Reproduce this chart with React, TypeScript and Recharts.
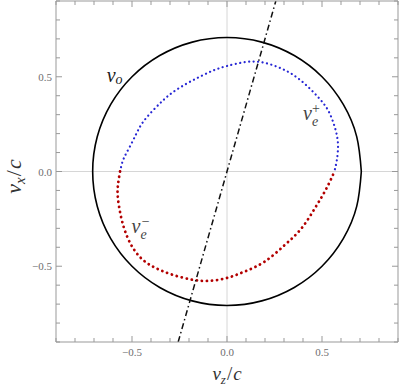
import React from "react";
import { ComposedChart, XAxis, YAxis, Line, ReferenceLine, ReferenceDot } from "recharts";

// v_o : circle of constant speed
const CIRCLE_Z = [0.707, 0.683, 0.612, 0.5, 0.354, 0.183, 0, -0.183, -0.354, -0.5, -0.612, -0.683, -0.707, -0.683, -0.612, -0.5, -0.354, -0.183, 0, 0.183, 0.354, 0.5, 0.612, 0.683, 0.707];
const CIRCLE_X = [0, 0.183, 0.354, 0.5, 0.612, 0.683, 0.707, 0.683, 0.612, 0.5, 0.354, 0.183, 0, -0.183, -0.354, -0.5, -0.612, -0.683, -0.707, -0.683, -0.612, -0.5, -0.354, -0.183, 0];

// v_e^+ (blue, upper branch)
const PLUS_Z = [-0.563, -0.545, -0.512, -0.477, -0.442, -0.389, -0.337, -0.284, -0.214, -0.144, -0.073, 0.0, 0.093, 0.181, 0.268, 0.339, 0.409, 0.479, 0.532, 0.567, 0.584, 0.578, 0.565];
const PLUS_X = [0.0, 0.065, 0.13, 0.2, 0.261, 0.323, 0.375, 0.419, 0.463, 0.5, 0.533, 0.557, 0.577, 0.577, 0.551, 0.516, 0.463, 0.393, 0.323, 0.235, 0.147, 0.06, 0.0];

// v_e^- (red, lower branch)
const MINUS_Z = [-0.563, -0.574, -0.574, -0.556, -0.529, -0.494, -0.442, -0.372, -0.284, -0.179, -0.091, 0.0, 0.093, 0.198, 0.304, 0.392, 0.462, 0.514, 0.549, 0.565];
const MINUS_X = [0.0, -0.072, -0.142, -0.247, -0.335, -0.405, -0.467, -0.511, -0.546, -0.572, -0.577, -0.562, -0.528, -0.476, -0.388, -0.3, -0.195, -0.107, -0.037, 0.0];

// dash-dot direction line
const AXIS_Z = [-0.257, 0.257];
const AXIS_X = [-0.9, 0.9];

const TICKS = [-0.9, -0.8, -0.7, -0.6, -0.5, -0.4, -0.3, -0.2, -0.1, 0, 0.1, 0.2, 0.3, 0.4, 0.5, 0.6, 0.7, 0.8, 0.9];
const MAJOR_TICKS = [-0.5, 0, 0.5];
const MAJOR_LABELS = ["\u22120.5", "0.0", "0.5"];

const LABEL_VO = { z: -0.633, x: 0.471 };
const LABEL_PLUS = { z: 0.4, x: 0.271 };
const LABEL_MINUS = { z: -0.502, x: -0.324 };

const toRows = (zs: number[], xs: number[]) => zs.map((z, i) => ({ z, x: xs[i] }));

const circle = toRows(CIRCLE_Z, CIRCLE_X);
const plus = toRows(PLUS_Z, PLUS_X);
const minus = toRows(MINUS_Z, MINUS_X);
const dirLine = toRows(AXIS_Z, AXIS_X);

const FRAME = "#999";
const TICK_TEXT = "#6e6e6e";
const SERIF = "'Liberation Serif', 'Times New Roman', serif";

const majorIndex = (v: number) => MAJOR_TICKS.findIndex((t) => Math.abs(t - v) < 1e-6);

function makeTick(side: "bottom" | "top" | "left" | "right") {
  return (p: any) => {
    const v = p.payload.value;
    const mi = majorIndex(v);
    const len = mi >= 0 ? 6 : 4;
    const { x, y } = p;
    if (side === "bottom") {
      return (
        <g>
          <line x1={x} y1={y} x2={x} y2={y - len} stroke={FRAME} />
          {mi >= 0 && (
            <text x={x} y={y + 14} textAnchor="middle" fontFamily={SERIF} fontSize={11} fill={TICK_TEXT}>
              {MAJOR_LABELS[mi]}
            </text>
          )}
        </g>
      );
    }
    if (side === "top") return <line x1={x} y1={y} x2={x} y2={y + len} stroke={FRAME} />;
    if (side === "left") {
      return (
        <g>
          <line x1={x} y1={y} x2={x + len} y2={y} stroke={FRAME} />
          {mi >= 0 && (
            <text x={x - 4} y={y + 4} textAnchor="end" fontFamily={SERIF} fontSize={11} fill={TICK_TEXT}>
              {MAJOR_LABELS[mi]}
            </text>
          )}
        </g>
      );
    }
    return <line x1={x} y1={y} x2={x - len} y2={y} stroke={FRAME} />;
  };
}

const renderZLabel = (props: any) => {
  const vb = props.viewBox;
  return (
    <text x={vb.x + vb.width / 2} y={vb.y + 38} textAnchor="middle" fontFamily={SERIF} fontSize={19} fill="#333">
      <tspan fontStyle="italic">v</tspan>
      <tspan fontStyle="italic" fontSize={13} dy={4}>z</tspan>
      <tspan dy={-4} dx={1}>/</tspan>
      <tspan fontStyle="italic" dx={1}>c</tspan>
    </text>
  );
};

const renderXLabel = (props: any) => {
  const vb = props.viewBox;
  const cx = vb.x + 21;
  const cy = vb.y + vb.height / 2 + 5;
  return (
    <text transform={`translate(${cx},${cy}) rotate(-90)`} x={0} y={0} textAnchor="middle" fontFamily={SERIF} fontSize={22} fill="#333">
      <tspan fontStyle="italic">v</tspan>
      <tspan fontStyle="italic" fontSize={15} dy={4}>x</tspan>
      <tspan dy={-4} dx={1}>/</tspan>
      <tspan fontStyle="italic" dx={1}>c</tspan>
    </text>
  );
};

const voShape = (p: any) => (
  <text x={p.cx} y={p.cy} fontFamily={SERIF} fontSize={20} fill="#1a1a1a">
    <tspan fontStyle="italic">v</tspan>
    <tspan fontStyle="italic" fontSize={14} dy={2}>o</tspan>
  </text>
);

const plusShape = (p: any) => (
  <text x={p.cx} y={p.cy} fontFamily={SERIF} fontSize={20} fill="#444">
    <tspan fontStyle="italic">v</tspan>
    <tspan fontStyle="italic" fontSize={14} dy={6}>e</tspan>
    <tspan fontSize={14} dx={-6} dy={-13}>+</tspan>
  </text>
);

const minusShape = (p: any) => (
  <text x={p.cx} y={p.cy} fontFamily={SERIF} fontSize={20} fill="#444">
    <tspan fontStyle="italic">v</tspan>
    <tspan fontStyle="italic" fontSize={14} dy={6}>e</tspan>
    <tspan fontSize={14} dx={-5} dy={-13}>{"\u2212"}</tspan>
  </text>
);

export default function App() {
  return (
    <div style={{ position: "absolute", left: 0, top: 0, background: "#fff" }}>
      <ComposedChart width={399} height={389} margin={{ top: 0, right: 0, bottom: 0, left: 0 }}>
        <XAxis
          xAxisId="b"
          orientation="bottom"
          type="number"
          dataKey="z"
          domain={[-0.9, 0.9]}
          allowDataOverflow
          ticks={TICKS}
          interval={0}
          tickSize={0}
          tickMargin={0}
          tickLine={false}
          tick={makeTick("bottom")}
          axisLine={{ stroke: FRAME }}
          height={47}
          label={renderZLabel}
        />
        <XAxis
          xAxisId="t"
          orientation="top"
          type="number"
          dataKey="z"
          domain={[-0.9, 0.9]}
          allowDataOverflow
          ticks={TICKS}
          interval={0}
          tickSize={0}
          tickMargin={0}
          tickLine={false}
          tick={makeTick("top")}
          axisLine={{ stroke: FRAME }}
          height={1}
        />
        <YAxis
          yAxisId="l"
          orientation="left"
          type="number"
          dataKey="x"
          domain={[-0.9, 0.9]}
          allowDataOverflow
          ticks={TICKS}
          interval={0}
          tickSize={0}
          tickMargin={0}
          tickLine={false}
          tick={makeTick("left")}
          axisLine={{ stroke: FRAME }}
          width={56}
          label={renderXLabel}
        />
        <YAxis
          yAxisId="r"
          orientation="right"
          type="number"
          dataKey="x"
          domain={[-0.9, 0.9]}
          allowDataOverflow
          ticks={TICKS}
          interval={0}
          tickSize={0}
          tickMargin={0}
          tickLine={false}
          tick={makeTick("right")}
          axisLine={{ stroke: FRAME }}
          width={1}
        />
        <ReferenceLine xAxisId="b" yAxisId="l" x={0} stroke="#d6d6d6" strokeWidth={1} />
        <ReferenceLine xAxisId="b" yAxisId="l" y={0} stroke="#d6d6d6" strokeWidth={1} />
        <Line
          xAxisId="b"
          yAxisId="l"
          data={circle}
          dataKey="x"
          type="natural"
          stroke="#000"
          strokeWidth={1.6}
          dot={false}
          activeDot={false}
          isAnimationActive={false}
        />
        <Line
          xAxisId="b"
          yAxisId="l"
          data={plus}
          dataKey="x"
          type="natural"
          stroke="#2626d4"
          strokeWidth={2.2}
          strokeDasharray="0.1 4.4"
          strokeLinecap="round"
          dot={false}
          activeDot={false}
          isAnimationActive={false}
        />
        <Line
          xAxisId="b"
          yAxisId="l"
          data={minus}
          dataKey="x"
          type="natural"
          stroke="#b30000"
          strokeWidth={2.8}
          strokeDasharray="0.1 5"
          strokeLinecap="round"
          dot={false}
          activeDot={false}
          isAnimationActive={false}
        />
        <Line
          xAxisId="b"
          yAxisId="l"
          data={dirLine}
          dataKey="x"
          type="linear"
          stroke="#111"
          strokeWidth={1.5}
          strokeDasharray="6 3 1.5 3"
          dot={false}
          activeDot={false}
          isAnimationActive={false}
        />
        <ReferenceDot xAxisId="b" yAxisId="l" x={LABEL_VO.z} y={LABEL_VO.x} r={1} shape={voShape} />
        <ReferenceDot xAxisId="b" yAxisId="l" x={LABEL_PLUS.z} y={LABEL_PLUS.x} r={1} shape={plusShape} />
        <ReferenceDot xAxisId="b" yAxisId="l" x={LABEL_MINUS.z} y={LABEL_MINUS.x} r={1} shape={minusShape} />
      </ComposedChart>
    </div>
  );
}
